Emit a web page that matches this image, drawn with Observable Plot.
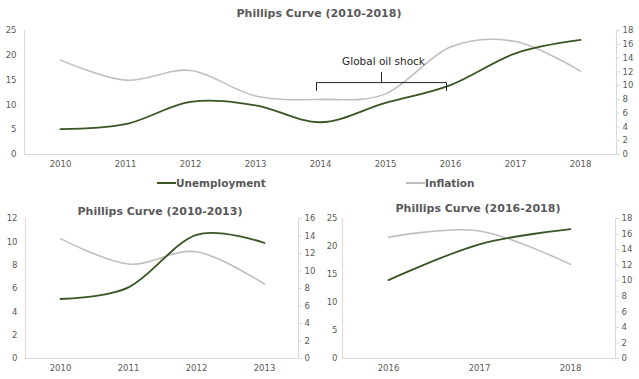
<!DOCTYPE html>
<html><head><meta charset="utf-8">
<script src="https://cdn.jsdelivr.net/npm/d3@7"></script>
<script src="https://cdn.jsdelivr.net/npm/@observablehq/plot@0.6"></script>
<style>
body{margin:0;background:#fff;font-family:"DejaVu Sans",Verdana,sans-serif;}
#root{position:relative;width:639px;height:379px;overflow:hidden;background:#fff;}
.title{position:absolute;font-weight:bold;font-size:11px;color:#595959;line-height:14px;white-space:nowrap;transform:translateX(-50%);}
.panel{position:absolute;}
.legend{position:absolute;top:176px;line-height:14px;font-size:10.5px;font-weight:bold;color:#595959;white-space:nowrap;display:flex;align-items:center;}
.sw{display:inline-block;width:19px;height:2px;margin-right:0px;}
</style></head>
<body><div id="root"></div>
<script>
// ---- data ----
const years = [2010, 2011, 2012, 2013, 2014, 2015, 2016, 2017, 2018];
const unemployment = [5.1, 6.1, 10.6, 9.9, 6.5, 10.4, 14.0, 20.4, 23.1];
const inflation = [13.7, 10.8, 12.2, 8.5, 8.0, 8.8, 15.6, 16.4, 12.1];
const seriesNames = ["Unemployment", "Inflation"];
const titles = ["Phillips Curve (2010-2018)", "Phillips Curve (2010-2013)", "Phillips Curve (2016-2018)"];
const ticksLeft25 = [0, 5, 10, 15, 20, 25];
const ticksLeft12 = [0, 2, 4, 6, 8, 10, 12];
const ticksRight18 = [0, 2, 4, 6, 8, 10, 12, 14, 16, 18];
const ticksRight16 = [0, 2, 4, 6, 8, 10, 12, 14, 16];
const oilShockLabel = "Global oil shock";
const oilShockRange = [2014, 2016];

const green = "#375623", gray = "#bfbfbf", axisCol = "#d9d9d9", textCol = "#595959";
const table = years.map((y, i) => ({year: y, u: unemployment[i], inf: inflation[i]}));
const root = document.getElementById("root");

function chart({from, to, yMax, y2Max, leftTicks, rightTicks, left, top, width, height, ml, mr, mt, mb, lpad, annotate}) {
  const rows = table.filter(d => d.year >= from && d.year <= to);
  const k = yMax / y2Max;
  const marks = [
    Plot.ruleY([0], {stroke: axisCol}),
    Plot.frame({anchor: "left", stroke: axisCol}),
    Plot.frame({anchor: "right", stroke: axisCol}),
    Plot.axisY(leftTicks, {anchor: "left", tickSize: 0, tickPadding: lpad, label: null, fill: textCol, fontSize: 8.5}),
    Plot.axisY(rightTicks, {anchor: "right", y: d => d * k, tickFormat: d => String(d), tickSize: 3, tickPadding: 3, label: null, stroke: axisCol, fill: textCol, fontSize: 8.5}),
    Plot.axisX({tickSize: 0, tickPadding: 6, tickFormat: d => String(d), label: null, fill: textCol, fontSize: 8.5}),
    Plot.line(rows, {x: "year", y: d => d.inf * k, curve: "cardinal", stroke: gray, strokeWidth: 1.6}),
    Plot.line(rows, {x: "year", y: "u", curve: "cardinal", stroke: green, strokeWidth: 1.8})
  ];
  if (annotate) {
    const [a, b] = oilShockRange;
    const mid = years[years.indexOf(a) + 1];
    const yb = 14.5, yEnd = 12.9, yTop = 16.6;
    const brace = [
      {x: a, y: yEnd}, {x: a, y: yb}, {x: mid, y: yb}, {x: mid, y: yTop},
      {x: mid, y: yb}, {x: b, y: yb}, {x: b, y: yEnd}
    ];
    marks.push(Plot.line(brace, {x: "x", y: "y", stroke: "#262626", strokeWidth: 1, dx: -4, strokeLinejoin: "round"}));
    marks.push(Plot.text([oilShockLabel], {x: mid, y: 18.8, text: d => d, dx: -2, fill: "#262626", fontSize: 10.5, fontFamily: "DejaVu Sans"}));
  }
  const svg = Plot.plot({
    width, height, marginLeft: ml, marginRight: mr, marginTop: mt, marginBottom: mb,
    x: {type: "point", domain: rows.map(d => d.year), padding: 0.5},
    y: {domain: [0, yMax]},
    style: {fontFamily: "DejaVu Sans, Verdana, sans-serif", background: "transparent", overflow: "visible"},
    marks
  });
  const div = document.createElement("div");
  div.className = "panel";
  div.style.left = left + "px"; div.style.top = top + "px";
  div.appendChild(svg);
  root.appendChild(div);
}

function title(text, cx, cy) {
  const t = document.createElement("div");
  t.className = "title"; t.textContent = text;
  t.style.left = cx + "px"; t.style.top = (cy - 7) + "px";
  root.appendChild(t);
}

function legendItem(name, color, x) {
  const l = document.createElement("div");
  l.className = "legend"; l.style.left = x + "px";
  const s = document.createElement("span"); s.className = "sw"; s.style.background = color;
  l.appendChild(s); l.appendChild(document.createTextNode(name));
  root.appendChild(l);
}

// top chart
chart({from: 2010, to: 2018, yMax: 25, y2Max: 18, leftTicks: ticksLeft25, rightTicks: ticksRight18,
  left: 0, top: 22, width: 639, height: 150, ml: 24, mr: 23, mt: 8, mb: 18, lpad: 8, annotate: true});
title(titles[0], 319, 14);
legendItem(seriesNames[0], green, 157);
legendItem(seriesNames[1], gray, 406);

// bottom left
chart({from: 2010, to: 2013, yMax: 12, y2Max: 16, leftTicks: ticksLeft12, rightTicks: ticksRight16,
  left: 0, top: 210, width: 320, height: 169, ml: 25, mr: 22, mt: 8, mb: 21, lpad: 8});
title(titles[1], 160, 212);

// bottom right
chart({from: 2016, to: 2018, yMax: 25, y2Max: 18, leftTicks: ticksLeft25, rightTicks: ticksRight18,
  left: 320, top: 210, width: 319, height: 169, ml: 22, mr: 24, mt: 8, mb: 21, lpad: 5});
title(titles[2], 478, 209);
</script>
</body></html>
